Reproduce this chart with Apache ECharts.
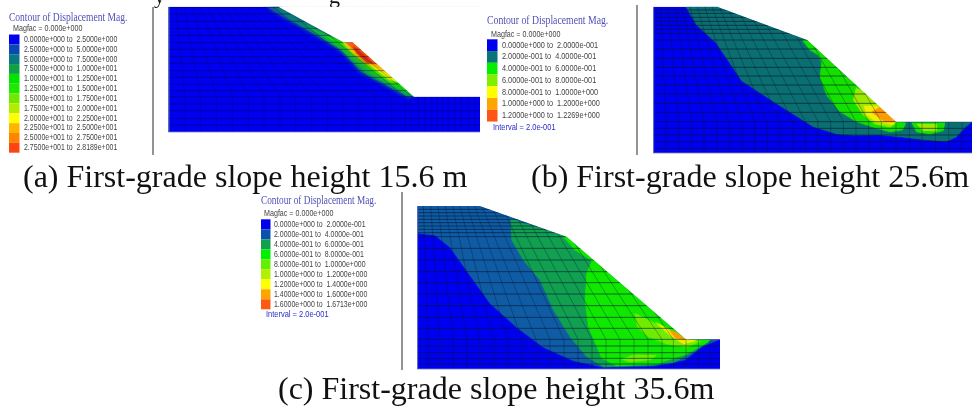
<!DOCTYPE html>
<html><head><meta charset="utf-8">
<style>html,body{margin:0;padding:0;background:#fff}#c{width:972px;height:407px}#c canvas{filter:blur(.45px)}</style>
<script src="https://cdn.jsdelivr.net/npm/echarts@6/dist/echarts.min.js"></script></head>
<body><div id="c"></div>
<script>
// ---------- legends ----------
const legendTitle='Contour of Displacement Mag.';
const legendALabels=['0.0000e+000 to  2.5000e+000','2.5000e+000 to  5.0000e+000','5.0000e+000 to  7.5000e+000','7.5000e+000 to  1.0000e+001','1.0000e+001 to  1.2500e+001','1.2500e+001 to  1.5000e+001','1.5000e+001 to  1.7500e+001','1.7500e+001 to  2.0000e+001','2.0000e+001 to  2.2500e+001','2.2500e+001 to  2.5000e+001','2.5000e+001 to  2.7500e+001','2.7500e+001 to  2.8189e+001'];
const legendAColors=['#0000ee','#0a48b4','#0a7880','#10a048','#00e400','#20e800','#70e800','#b4ec00','#ffff00','#ffb400','#ff8400','#ff4414'];
const legendBLabels=['0.0000e+000 to  2.0000e-001','2.0000e-001 to  4.0000e-001','4.0000e-001 to  6.0000e-001','6.0000e-001 to  8.0000e-001','8.0000e-001 to  1.0000e+000','1.0000e+000 to  1.2000e+000','1.2000e+000 to  1.2269e+000'];
const legendBColors=['#0000ee','#0a7478','#00f000','#80f000','#ffff00','#ffa400','#ff5414'];
const legendCLabels=['0.0000e+000 to  2.0000e-001','2.0000e-001 to  4.0000e-001','4.0000e-001 to  6.0000e-001','6.0000e-001 to  8.0000e-001','8.0000e-001 to  1.0000e+000','1.0000e+000 to  1.2000e+000','1.2000e+000 to  1.4000e+000','1.4000e+000 to  1.6000e+000','1.6000e+000 to  1.6713e+000'];
const legendCColors=['#0000ee','#0a50b0','#10a050','#00f000','#60f000','#b0f000','#ffff00','#ffa500','#ff5a14'];
const captions=['(a) First-grade slope height 15.6 m','(b) First-grade slope height 25.6m','(c) First-grade slope height 35.6m'];

// ---------- panel (a): section outline and contour bands ----------
const aBounds=[26,960,20,397];
const aSurface=[[26,20],[355,20],[550,127],[578,127],[762,290],[960,290]];
const aBands=[
 ['#0000f0',[[26,20],[355,20],[550,127],[578,127],[762,290],[960,290],[960,397],[26,397]]],
 ['#14559a',[[318,20],[355,20],[450,72],[400,68]]],
 ['#0a7c78',[[340,20],[355,20],[550,127],[578,127],[762,290],[738,288],[680,256],[600,214],[545,150],[490,118],[420,78]]],
 ['#12b040',[[430,72],[550,127],[578,127],[762,290],[745,286],[695,258],[620,218],[565,170],[540,146],[490,112]]],
 ['#14e400',[[490,106],[550,127],[578,127],[752,282],[700,252],[630,208],[575,160],[545,136]]],
 ['#e8f000',[[548,127],[578,127],[712,246],[690,240],[625,192],[580,160]]],
 ['#ffa800',[[552,127],[578,127],[700,236],[672,214],[622,182],[590,158]]],
 ['#ff5a14',[[562,127],[578,127],[655,196],[626,182],[592,152]]],
 ['#dd3010',[[578,136],[642,190],[620,188],[590,160]]]
];
const aLevels=[22,42,64,85,106,127,148,170,190,212,232,252,272,290,312,332,355,375];
const aColTop=[48,72,96,120,144,168,192,216,240,264,288,312,340,370,400,430,460,490,520,550,578,610,640,670,700,730];
const aColBase=[75,122,170,218,265,312,360,407,455,502,548,595,645,695,735,755,775,795,815,830,848,865,885,905,925,945];

// ---------- panel (b) ----------
const bBounds=[40,996,20,460];
const bSurface=[[40,20],[232,20],[502,120],[768,365],[996,365]];
const bBands=[
 ['#0000f0',[[40,20],[232,20],[502,120],[768,365],[996,365],[996,460],[40,460]]],
 ['#0b6f72',[[138,20],[232,20],[502,120],[768,365],[996,365],[975,382],[948,412],[920,424],[860,420],[790,412],[720,405],[640,406],[590,402],[520,380],[440,330],[370,285],[305,242],[270,190],[228,128],[170,75]]],
 ['#14e000',[[487,120],[502,120],[768,365],[798,368],[788,390],[750,396],[700,382],[650,365],[600,335],[560,285],[540,232],[545,185],[535,165],[510,150]]],
 ['#14e000',[[815,368],[915,368],[910,392],[870,402],[830,396]]],
 ['#9ce800',[[648,265],[670,272],[768,365],[752,382],[705,372],[670,345],[640,300]]],
 ['#9ce800',[[830,372],[890,372],[890,392],[850,392]]],
 ['#eef000',[[672,318],[710,318],[768,365],[760,374],[706,364],[680,344]]],
 ['#ff9a00',[[695,336],[722,320],[768,365],[734,365]]]
];
const bLevels=[30,40,52,64,76,88,100,120,147,175,202,228,255,282,310,337,365,385,405,425,445];
const bColTop=[62,84,106,128,150,172,194,216,238,262,290,320,350,385,420,455,490,525,560];
const bColBase=[78,116,154,192,230,268,306,344,382,420,458,496,534,572,610,648,686,724,768];
const bFootExtra=[808,846,886,926,966];

// ---------- panel (c) ----------
const cBounds=[52,960,48,538];
const cSurface=[[52,48],[240,48],[500,140],[858,448],[960,448]];
const cBands=[
 ['#0000f0',[[52,48],[240,48],[500,140],[858,448],[960,448],[960,538],[52,538]]],
 ['#0f5ca4',[[52,48],[240,48],[500,140],[858,448],[960,448],[905,470],[855,510],[760,528],[610,532],[520,512],[430,472],[350,412],[270,340],[200,242],[150,172],[105,136],[52,130]]],
 ['#10a050',[[332,86],[500,140],[858,448],[930,450],[880,486],[820,518],[760,526],[610,530],[560,500],[510,440],[460,360],[420,270],[370,210],[335,150]]],
 ['#10e800',[[490,140],[500,140],[858,448],[932,450],[915,462],[860,492],[770,522],[650,528],[605,505],[565,410],[555,330],[560,250],[576,212],[525,180]]],
 ['#70ec00',[[705,370],[858,448],[905,454],[860,472],[800,462],[745,440],[712,410]]],
 ['#70ec00',[[665,508],[700,494],[770,496],[750,510],[690,516]]],
 ['#e8f000',[[765,395],[858,448],[890,452],[850,462],[810,436]]],
 ['#ff9a00',[[808,420],[830,428],[858,450],[826,444]]]
];
const cLevels=[58,68,78,88,98,108,118,128,140,175,210,245,278,312,347,382,415,448,468,488,505,522];
const cColTop=[70,92,114,136,158,180,202,224,246,275,305,335,365,395,425,455,485,515,545,575];
const cColBase=[85,120,160,200,240,282,324,366,408,450,492,534,576,618,660,702,744,786,820,858];
const cFootExtra=[895,930];

// ---------- build ----------
function meshLines(bounds,levels,top,base,baseY,extra){
  const [x0,x1,y0,y1]=bounds,out=[];
  levels.forEach(y=>out.push({h:true,pts:[[x0,y],[x1,y]]}));
  top.forEach((t,i)=>out.push({h:false,pts:[[t,y0],[base[i],baseY],[base[i],y1]]}));
  extra.forEach(x=>out.push({h:false,pts:[[x,baseY],[x,y1]]}));
  return out;
}
function panelSeries(idx,bands,bounds,surface,lines,hColor,vColor,blur){
  const [x0,x1,y0,y1]=bounds;
  const mask=[[x0,y0]].concat(surface,[[x1,y0]]);
  const items=[];
  bands.forEach((b,i)=>items.push({kind:'band',fill:b[0],pts:b[1],soft:i>0}));
  lines.forEach(l=>items.push({kind:'line',pts:l.pts,h:l.h}));
  items.push({kind:'mask',pts:mask});
  items.push({kind:'edge',pts:[[x0,y0],[x0,y1],[x1,y1]]});
  return {type:'custom',xAxisIndex:idx,yAxisIndex:idx,clip:true,silent:true,animation:false,
    data:items.map((_,i)=>[i]),
    renderItem(p,api){
      const it=items[p.dataIndex],pts=it.pts.map(q=>api.coord(q));
      if(it.kind==='band')return{type:'polygon',shape:{points:pts},style:{fill:it.fill,shadowBlur:it.soft?blur:0,shadowColor:it.fill}};
      if(it.kind==='line')return{type:'polyline',shape:{points:pts},style:{fill:null,stroke:it.h?hColor:vColor,lineWidth:.8}};
      if(it.kind==='mask')return{type:'polygon',shape:{points:pts},style:{fill:'#fff'}};
      return{type:'polyline',shape:{points:pts},style:{fill:null,stroke:'#5a68c0',lineWidth:1.6}};
    }};
}
function boxGrid(originX,originY,b){
  return {left:originX+b[0]/3,top:originY+b[2]/3,width:(b[1]-b[0])/3,height:(b[3]-b[2])/3,show:false};
}
const grids=[boxGrid(160,0,aBounds),boxGrid(640,0,bBounds),boxGrid(400,190,cBounds)];
const bs=[aBounds,bBounds,cBounds];
const SANS='"Liberation Sans"',SERIF='"Liberation Serif"';
function text(x,y,t,font,fill,sx){return{type:'text',x,y,scaleX:sx||1,silent:true,style:{text:t,font,fill,verticalAlign:'middle',align:'left'}};}
function legend(o,labels,colors,interval){
  const g=[text(o.x,o.titleY,legendTitle,'12.2px '+SERIF,'#5050b8',o.titleScale),text(o.magX,o.magY,'Magfac = 0.000e+000','8.6px '+SANS,'#444',.83)];
  labels.forEach((l,i)=>{
    g.push({type:'rect',silent:true,shape:{x:o.x,y:o.top+i*o.row,width:o.sw,height:o.row},style:{fill:colors[i]}});
    g.push(text(o.labX,o.top+(i+.5)*o.row,l,'8.6px '+SANS,'#444',o.labelScale));
  });
  if(interval)g.push(text(o.intX,o.intY,interval,'8.6px '+SANS,'#2a2ad0',.87));
  return g;
}
function divider(x,a,b){return{type:'line',silent:true,shape:{x1:x,y1:a,x2:x,y2:b},style:{stroke:'#666',lineWidth:1.4}};}
const graphics=[].concat(
  legend({x:9,titleY:17.5,magX:13,magY:29,top:34.5,row:9.85,sw:10.5,labX:24,titleScale:.78,labelScale:.81},legendALabels,legendAColors),
  legend({x:487,titleY:21,magX:491,magY:35,top:39.3,row:11.75,sw:10.5,labX:502,intX:493,intY:128,titleScale:.8,labelScale:.85},legendBLabels,legendBColors,'Interval = 2.0e-001'),
  legend({x:261,titleY:201,magX:264,magY:214,top:219.3,row:10,sw:9.5,labX:274,intX:266,intY:315,titleScale:.76,labelScale:.81},legendCLabels,legendCColors,'Interval = 2.0e-001'),
  [divider(153,7,155),divider(637,5,155),divider(402,192,370),
   text(23,179,captions[0],'32px '+SERIF,'#111'),
   text(531,179,captions[1],'32px '+SERIF,'#111'),
   text(278,391,captions[2],'32px '+SERIF,'#111'),
   text(154,-3,'y','22px '+SERIF,'#111'),
   text(329,-3,'g','22px '+SERIF,'#111')]
);
const chart=echarts.init(document.getElementById('c'),null,{renderer:'canvas'});
chart.setOption({
  animation:false,backgroundColor:'#fff',
  grid:grids,
  xAxis:bs.map((b,i)=>({type:'value',gridIndex:i,min:b[0],max:b[1],show:false})),
  yAxis:bs.map((b,i)=>({type:'value',gridIndex:i,min:b[2],max:b[3],inverse:true,show:false})),
  series:[
    panelSeries(0,aBands,aBounds,aSurface,meshLines(aBounds,aLevels,aColTop,aColBase,290,[]),'rgba(0,0,60,.55)','rgba(0,0,60,.3)',4),
    panelSeries(1,bBands,bBounds,bSurface,meshLines(bBounds,bLevels,bColTop,bColBase,365,bFootExtra),'rgba(0,20,40,.75)','rgba(0,20,40,.4)',1.5),
    panelSeries(2,cBands,cBounds,cSurface,meshLines(cBounds,cLevels,cColTop,cColBase,448,cFootExtra),'rgba(0,20,50,.75)','rgba(0,20,50,.4)',1.5)
  ],
  graphic:graphics
});
</script></body></html>
